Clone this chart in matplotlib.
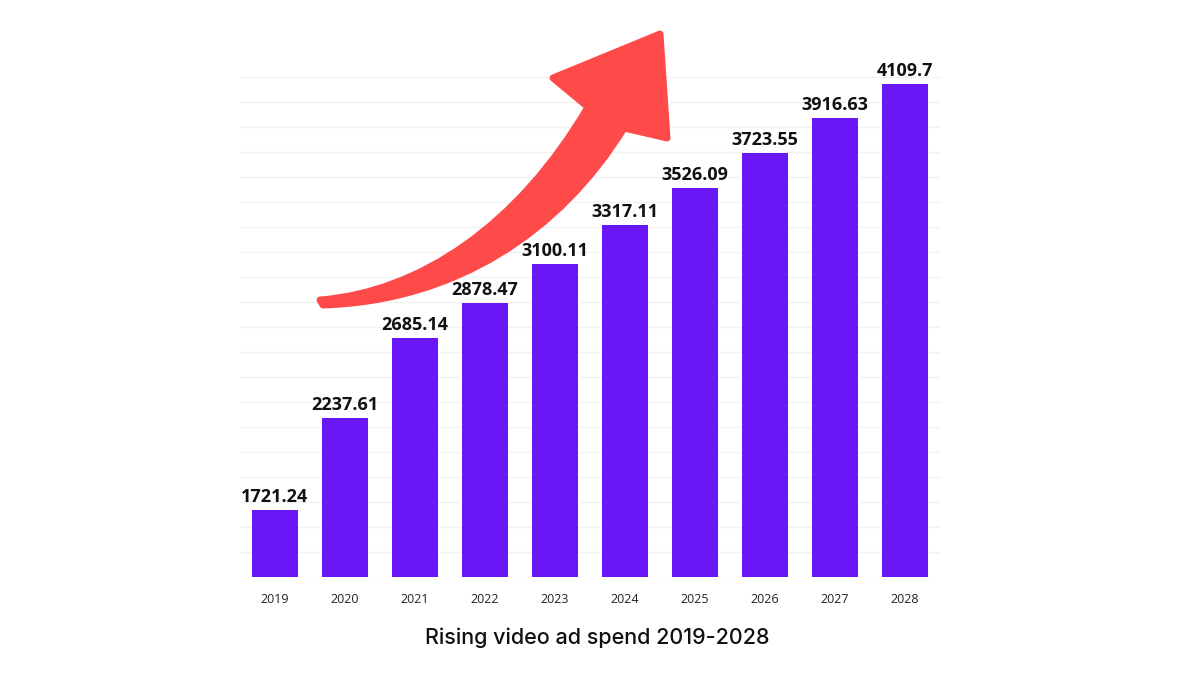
import numpy as np
import matplotlib.pyplot as plt
from matplotlib.path import Path
from matplotlib.patches import PathPatch

years = ["2019", "2020", "2021", "2022", "2023", "2024", "2025", "2026", "2027", "2028"]
spend = [1721.24, 2237.61, 2685.14, 2878.47, 3100.11, 3317.11, 3526.09, 3723.55, 3916.63, 4109.7]
labels = ["1721.24", "2237.61", "2685.14", "2878.47", "3100.11",
          "3317.11", "3526.09", "3723.55", "3916.63", "4109.7"]
title = "Rising video ad spend 2019-2028"

bar_color = "#6A17F8"
arrow_color = "#FF4A4A"

W, H = 1200, 675
fig = plt.figure(figsize=(12, 6.75), dpi=100)
ax = fig.add_axes([240 / W, 1 - 577 / H, 700 / W, (577 - 60) / H])

x = np.arange(len(years))
ax.bar(x, spend, width=0.66, color=bar_color, zorder=2)
for xi, v, lab in zip(x, spend, labels):
    ax.annotate(lab, (xi, v), xytext=(0, 3), textcoords="offset points",
                ha="center", va="bottom", fontsize=13, fontweight="bold",
                family="Open Sans", color="#111111")

ymin, ymax = 1345, 4243
ax.set_ylim(ymin, ymax)
ax.set_xlim(-0.5, len(years) - 0.5)
ax.set_yticks(np.arange(ymin, ymax - 90, 140))
ax.yaxis.grid(True, color="#f2f2f2", linewidth=1, zorder=0)
ax.set_axisbelow(True)
ax.tick_params(axis="y", left=False, labelleft=False)
ax.set_xticks(x)
ax.set_xticklabels(years, fontsize=9, family="Open Sans", color="#222222")
ax.tick_params(axis="x", bottom=False, pad=8)
for s in ax.spines.values():
    s.set_visible(False)

# curved arrow, drawn in pixel space (top-left origin)
def px(p):
    return (p[0], H - p[1])

pts = [
    ((320, 300), Path.MOVETO),
    ((420, 292), Path.CURVE4),
    ((518, 226), Path.CURVE4),
    ((588, 107), Path.CURVE4),
    ((553, 78), Path.LINETO),
    ((660, 34), Path.LINETO),
    ((667, 138), Path.LINETO),
    ((624, 128), Path.LINETO),
    ((560, 232), Path.CURVE4),
    ((455, 301), Path.CURVE4),
    ((323, 305), Path.CURVE4),
    ((320, 300), Path.CLOSEPOLY),
]
verts = [px(p) for p, _ in pts]
codes = [c for _, c in pts]
arrow = PathPatch(Path(verts, codes), facecolor=arrow_color, edgecolor=arrow_color,
                  linewidth=5, joinstyle="round", transform=None, zorder=5)
fig.patches.append(arrow)

fig.text(597 / W, 1 - 638 / H, title, ha="center", va="center",
         fontsize=15.5, family="Inter", fontweight="medium", color="#111111")

fig.savefig("out.png", dpi=100, facecolor="white")
